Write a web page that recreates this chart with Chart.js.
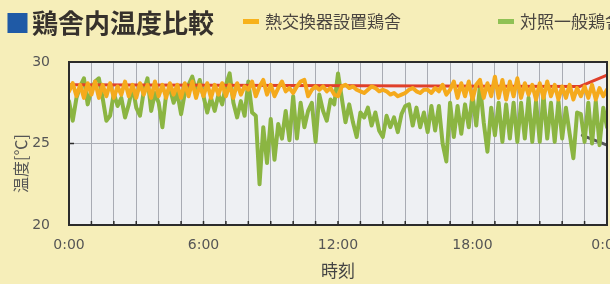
<!DOCTYPE html>
<html lang="ja">
<head>
<meta charset="UTF-8">
<title>鶏舎内温度比較</title>
<script src="https://cdn.jsdelivr.net/npm/chart.js"></script>
<style>
  html, body { margin: 0; padding: 0; }
  body {
    width: 610px; height: 284px; overflow: hidden; position: relative;
    background: #f6eeb9;
    font-family: "Noto Sans CJK JP", sans-serif;
  }
  .title {
    position: absolute; left: 5px; top: 3px; white-space: nowrap;
    font-size: 26px; font-weight: bold; color: #36312c; z-index: 2;
  }
  .title .mark { color: #1f5aa6; font-size: 25px; margin-right: 2px; }
  .legend-item {
    position: absolute; top: 8px; white-space: nowrap; z-index: 2;
    font-size: 17px; color: #4a4540;
  }
  .legend-item i {
    display: inline-block; width: 16px; height: 5px; margin-right: 6px;
    vertical-align: middle; position: relative; top: -2px;
  }
  .chart-box { position: absolute; left: 0; top: 0; width: 630px; height: 284px; }
</style>
</head>
<body>
  <div class="title"><span class="mark">■</span>鶏舎内温度比較</div>
  <div class="legend-item" style="left:243px"><i style="background:#f7b21c"></i>熱交換器設置鶏舎</div>
  <div class="legend-item" style="left:498px"><i style="background:#8fc154"></i>対照一般鶏舎</div>
  <div class="chart-box"><canvas id="tempChart"></canvas></div>

<script>
// readings every 10 minutes, 0:00 -> 24:00
const stepMinutes = 10;
const xTickHours = [0, 6, 12, 18, 24];

// 熱交換器設置鶏舎
const heatExTemps = [
  28.2, 28.7, 27.9, 28.6, 27.8, 28.7, 28.0, 28.8, 27.8, 28.6, 27.9, 28.7,
  27.8, 28.5, 28.0, 28.8, 27.9, 28.6, 27.8, 28.7, 28.0, 28.6, 27.8, 28.8,
  27.9, 28.6, 27.8, 28.7, 28.0, 28.6, 27.8, 28.7, 27.9, 28.8, 27.8, 28.6,
  27.9, 28.7, 27.8, 28.6, 28.0, 28.7, 27.9, 28.6, 27.8, 28.7, 28.0, 28.5,
  28.3, 28.8, 27.9, 28.5, 28.9, 28.0, 28.6, 27.9, 28.4, 28.8, 28.2, 28.4,
  28.1, 28.5, 28.8, 28.9, 27.9, 28.3, 28.5, 28.3, 28.5, 28.2, 28.4, 28.0,
  27.9, 28.5, 28.6, 28.4, 28.5, 28.3, 28.2, 28.1, 28.3, 28.5, 28.4, 28.2,
  28.3, 28.2, 28.0, 28.1, 27.9, 28.0, 28.1, 28.3, 28.4, 28.2, 28.1, 28.3,
  28.3, 28.1, 28.4, 28.2, 28.6, 28.0, 28.3, 28.8, 27.8, 28.7, 27.9, 28.8,
  27.7, 28.6, 28.9, 27.8, 28.7, 27.9, 29.1, 27.8, 28.9, 27.7, 28.8, 27.9,
  29.0, 27.8, 28.7, 28.0, 28.6, 27.7, 28.7, 27.8, 28.8, 27.9, 28.6, 27.7,
  28.5, 27.8, 28.6, 27.7, 28.4, 27.9, 28.5, 27.8, 28.6, 27.7, 28.4, 27.9,
  28.3
];

// 対照一般鶏舎
const controlTemps = [
  27.6, 26.4, 27.8, 28.5, 29.0, 27.4, 28.3, 28.8, 29.0, 27.8, 26.4, 26.7,
  28.1, 27.3, 27.8, 26.6, 27.4, 28.5, 27.2, 26.7, 28.2, 29.0, 27.0, 28.1,
  27.5, 26.0, 28.0, 28.4, 27.5, 28.1, 26.8, 28.1, 28.6, 29.1, 28.2, 28.9,
  27.9, 26.9, 27.8, 27.0, 28.0, 27.4, 28.6, 29.3, 27.5, 26.6, 27.6, 26.7,
  28.8, 26.9, 26.7, 22.5, 26.0, 23.8, 26.5, 24.0, 26.2, 25.3, 27.0, 25.2,
  27.9, 25.3, 27.5, 26.0, 27.0, 27.5, 25.1, 28.0, 27.0, 26.4, 27.7, 27.4,
  29.3, 27.8, 26.3, 27.4, 26.3, 25.4, 26.9, 26.6, 27.2, 26.1, 26.9, 25.8,
  25.4, 26.7, 26.0, 26.6, 25.7, 26.8, 27.3, 27.4, 26.1, 27.2, 26.0, 26.9,
  25.7, 27.3, 25.8, 27.3, 25.0, 23.9, 27.5, 25.4, 27.3, 25.6, 27.4, 26.0,
  28.0, 26.1, 28.6, 26.3, 24.5, 27.2, 25.5, 27.5, 25.1, 27.4, 25.3, 27.5,
  25.1, 27.5, 25.3, 27.8, 25.1, 27.6, 25.1, 28.0, 25.3, 27.5, 25.1, 27.6,
  25.3, 27.2, 25.6, 24.1, 26.9, 26.8, 25.1, 27.5, 25.0, 27.6, 24.9, 27.2,
  26.0
];

// red and grey lines (only partly visible)
const redHours = [0, 22.8, 24];
const redTemps = [28.6, 28.5, 29.2];
const greyHours = [22.9, 24];
const greyTemps = [25.5, 24.9];

const hours = heatExTemps.map((_, i) => i * stepMinutes / 60);
const toPoints = (xs, ys) => xs.map((x, i) => ({ x: x, y: ys[i] }));

const plotBackground = {
  id: 'plotBackground',
  beforeDraw(chart) {
    const { ctx, chartArea: a } = chart;
    ctx.save();
    ctx.fillStyle = '#eef0f3';
    ctx.fillRect(a.left, a.top, a.right - a.left, a.bottom - a.top);
    ctx.restore();
  }
};

// frame + short inner tick marks
const plotFrame = {
  id: 'plotFrame',
  afterDatasetsDraw(chart) {
    const { ctx, chartArea: a, scales } = chart;
    ctx.save();
    ctx.strokeStyle = '#2b2b2b';
    ctx.lineWidth = 1.5;
    ctx.beginPath();
    scales.x.ticks.forEach(t => {
      const px = scales.x.getPixelForValue(t.value);
      ctx.moveTo(px, a.bottom);
      ctx.lineTo(px, a.bottom - 4);
    });
    scales.y.ticks.forEach(t => {
      const py = scales.y.getPixelForValue(t.value);
      ctx.moveTo(a.left, py);
      ctx.lineTo(a.left + 5, py);
    });
    ctx.stroke();
    ctx.lineWidth = 2;
    ctx.strokeRect(a.left, a.top, a.right - a.left, a.bottom - a.top);
    ctx.restore();
  }
};

new Chart(document.getElementById('tempChart'), {
  type: 'line',
  data: {
    datasets: [
      {
        label: '熱交換器設置鶏舎',
        data: toPoints(hours, heatExTemps),
        borderColor: '#f5aa1c',
        borderWidth: 4
      },
      {
        label: 'red',
        data: toPoints(redHours, redTemps),
        borderColor: '#e0402a',
        borderWidth: 3
      },
      {
        label: '対照一般鶏舎',
        data: toPoints(hours, controlTemps),
        borderColor: '#8bb542',
        borderWidth: 4
      },
      {
        label: 'grey',
        data: toPoints(greyHours, greyTemps),
        borderColor: '#575757',
        borderWidth: 3
      }
    ]
  },
  options: {
    responsive: true,
    maintainAspectRatio: false,
    animation: false,
    events: [],
    elements: {
      point: { radius: 0 },
      line: { tension: 0, borderJoinStyle: 'round', borderCapStyle: 'round' }
    },
    layout: { padding: { left: 8, right: 23, top: 62, bottom: 3 } },
    plugins: {
      legend: { display: false },
      tooltip: { enabled: false }
    },
    scales: {
      x: {
        type: 'linear',
        min: 0,
        max: 24,
        grid: { color: '#a8abb3', lineWidth: 1, drawTicks: false },
        border: { display: false },
        afterBuildTicks: axis => {
          axis.ticks = Array.from({ length: 25 }, (_, h) => ({ value: h }));
        },
        afterFit: axis => {
          axis.height = 56;
          axis.paddingLeft = 0;
          axis.paddingRight = 0;
        },
        ticks: {
          autoSkip: false,
          maxRotation: 0,
          padding: 12,
          color: '#555',
          font: { family: 'DejaVu Sans', size: 14 },
          callback: v => xTickHours.includes(v) ? (v % 24) + ':00' : ''
        },
        title: {
          display: true,
          text: '時刻',
          color: '#444',
          font: { family: 'Noto Sans CJK JP', size: 17 },
          padding: { top: 5, bottom: 0 }
        }
      },
      y: {
        min: 20,
        max: 30,
        grid: { color: '#a8abb3', lineWidth: 1, drawTicks: false },
        border: { display: false },
        afterFit: axis => {
          axis.width = 61;
          axis.paddingTop = 0;
          axis.paddingBottom = 0;
        },
        ticks: {
          stepSize: 5,
          padding: 19,
          color: '#555',
          font: { family: 'DejaVu Sans', size: 14 }
        },
        title: {
          display: true,
          text: '温度[℃]\u3000\u3000\u2002',
          color: '#555',
          font: { family: 'Noto Sans CJK JP', size: 16 },
          padding: { top: 3, bottom: 2 }
        }
      }
    }
  },
  plugins: [plotBackground, plotFrame]
});
</script>
</body>
</html>
